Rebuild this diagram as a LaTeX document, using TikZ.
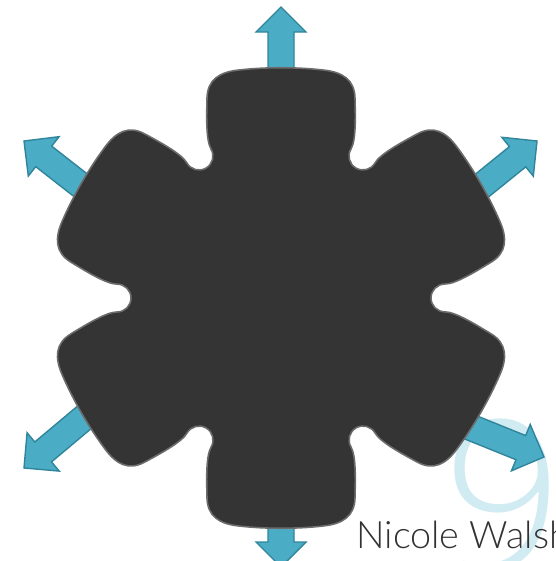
\documentclass[tikz,border=0pt]{standalone}
\usepackage{fontspec}
\setmainfont{Carlito}
\newfontfamily\lightfont{Lato Light}
\newfontfamily\ninefont{Open Sans Light}
\usetikzlibrary{calc}
\definecolor{gearGray}{RGB}{52,52,52}
\definecolor{gearEdge}{RGB}{108,108,108}
\definecolor{arrowAqua}{RGB}{75,172,198}
\definecolor{arrowRim}{RGB}{49,133,155}
\definecolor{paleAqua}{RGB}{208,235,242}
\definecolor{nameGray}{RGB}{50,50,50}
\newcommand{\BlockArrow}[3]{%
  \filldraw[fill=arrowAqua,draw=arrowRim,line width=0.8pt,line join=miter,shift={(#1,#2)},rotate=#3]
    (0,0) -- (-25,25) -- (-25,13) -- (-115,13) -- (-115,-13) -- (-25,-13) -- (-25,-25) -- cycle;}

\begin{document}
\begin{tikzpicture}[x=0.02cm,y=0.02cm]
  \useasboundingbox (0,0) rectangle (555,-561);
  \clip (0,0) rectangle (555,-561);
  \node[anchor=base west,inner sep=0pt,text=paleAqua,font=\ninefont\fontsize{119}{119}\selectfont] (bigNine) at (443,-570) {9};
  \BlockArrow{281}{-7}{90}
  \BlockArrow{537}{-141}{39}
  \BlockArrow{24}{-141}{142}
  \BlockArrow{24}{-468}{220}
  \BlockArrow{544}{-457}{-22}
  \BlockArrow{281}{-567}{-90}
  \begin{scope}[shift={(281,-298)}]
    \filldraw[fill=gearGray,draw=gearEdge,line width=0.9pt]
      (70,149)
      \foreach \a in {0,60,...,300} {{[rotate=\a]
        .. controls (75,157.7) and (74.5,180) .. (74,200)
        .. controls (73.5,218) and (62,226) .. (42,228)
        .. controls (16,231) and (-16,231) .. (-42,228)
        .. controls (-62,226) and (-73.5,218) .. (-74,200)
        .. controls (-74.5,180) and (-75,157.7) .. (-70,149)
        .. controls (-66.1,142.3) and (-68.3,133.8) .. (-75,129.9)
        .. controls (-81.7,126) and (-90.2,128.3) .. (-94.1,135)}}
      -- cycle;
  \end{scope}
  \node[anchor=base west,inner sep=0pt,text=nameGray,font=\lightfont\fontsize{21.5}{26}\selectfont] (nameTag) at (356,-548) {Nicole Walsh};
\end{tikzpicture}
\end{document}
